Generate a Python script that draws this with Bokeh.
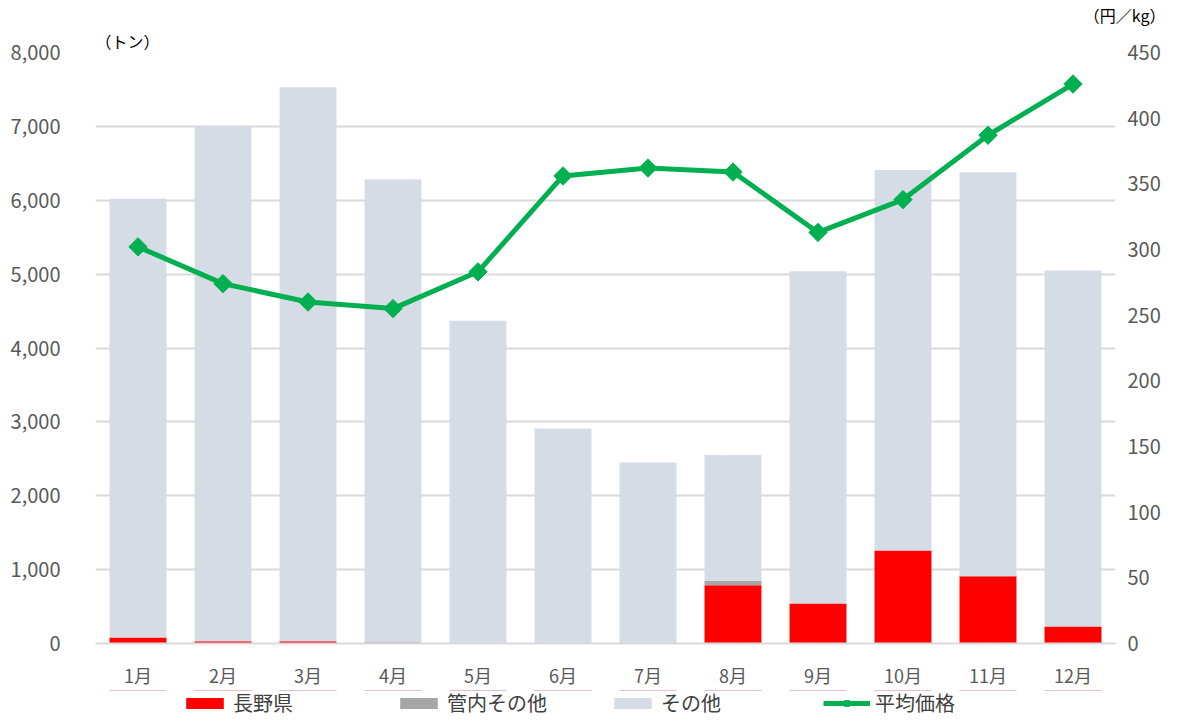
import math
from bokeh.plotting import figure
from bokeh.layouts import column
from bokeh.models import (ColumnDataSource, Range1d, LinearAxis, NumeralTickFormatter,
                          FixedTicker, Legend, LegendItem, Title)
from bokeh.embed import file_html
from bokeh.resources import INLINE

months = ["1月", "2月", "3月", "4月", "5月", "6月", "7月", "8月", "9月", "10月", "11月", "12月"]
nagano = [80, 30, 30, 10, 0, 0, 0, 790, 540, 1260, 910, 230]
kannai = [0, 0, 0, 10, 0, 0, 0, 60, 0, 0, 0, 0]
sonota = [5940, 6970, 7500, 6260, 4370, 2910, 2450, 1700, 4500, 5150, 5470, 4820]
price = [302, 274, 260, 255, 283, 356, 362, 359, 313, 338, 387, 426]
series_names = ["長野県", "管内その他", "その他", "平均価格"]

FONT = "Noto Sans CJK JP"
RED, GRAY, LIGHT, GREEN = "#ff0000", "#a6a6a6", "#d6dce5", "#00b050"

src = ColumnDataSource(dict(month=months, nagano=nagano, kannai=kannai, sonota=sonota, price=price))

p = figure(x_range=months, frame_width=1020, frame_height=591, output_backend="svg",
           toolbar_location=None, min_border_left=95, min_border_right=71,
           min_border_top=51, min_border_bottom=0, border_fill_color="white")
p.y_range = Range1d(0, 8000)
p.extra_y_ranges = {"price": Range1d(0, 450)}
p.outline_line_color = None
p.background_fill_color = "white"

stack = p.vbar_stack(["nagano", "kannai", "sonota"], x="month", width=0.67, source=src,
                     color=[RED, GRAY, LIGHT], line_color=None)
ln = p.line("month", "price", source=src, y_range_name="price", line_color=GREEN, line_width=5)
mk = p.scatter("month", "price", source=src, y_range_name="price", marker="square",
               angle=math.pi / 4, size=13, fill_color=GREEN, line_color=GREEN)

p.yaxis.ticker = FixedTicker(ticks=list(range(0, 8001, 1000)))
p.yaxis.formatter = NumeralTickFormatter(format="0,0")
p.yaxis.axis_line_color = None
p.yaxis.major_tick_line_color = None
p.yaxis.minor_tick_line_color = None
p.yaxis.major_label_text_font = FONT
p.yaxis.major_label_text_font_size = "20px"
p.yaxis.major_label_text_color = "#595959"
p.yaxis.major_label_standoff = 29

ra = LinearAxis(y_range_name="price", ticker=FixedTicker(ticks=list(range(0, 451, 50))))
ra.axis_line_color = None
ra.major_tick_line_color = None
ra.minor_tick_line_color = None
ra.major_label_text_font = FONT
ra.major_label_text_font_size = "20px"
ra.major_label_text_color = "#595959"
ra.major_label_standoff = 6
p.add_layout(ra, "right")

p.xaxis.axis_line_color = "#d9d9d9"
p.xaxis.axis_line_width = 2
p.xaxis.major_tick_line_color = None
p.xaxis.minor_tick_line_color = None
p.xaxis.major_tick_out = 0
p.xaxis.major_tick_in = 0
p.xaxis.major_label_text_font = FONT
p.xaxis.major_label_text_font_size = "18px"
p.xaxis.major_label_text_color = "#595959"
p.xaxis.major_label_standoff = 18

p.xgrid.grid_line_color = None
p.ygrid.grid_line_color = "#d9d9d9"
p.ygrid.grid_line_width = 2

p.add_layout(Title(text="（トン）", align="left", offset=0, standoff=0,
                   text_font=FONT, text_font_size="16px", text_font_style="normal",
                   text_color="black"), "above")
p.add_layout(Title(text="（円／kg）", align="right", offset=-50, standoff=0,
                   text_font=FONT, text_font_size="16px", text_font_style="normal",
                   text_color="black"), "above")

# legend strip below the chart (series drawn outside its visible range, only the legend shows)
p2 = figure(x_range=months, y_range=Range1d(-2, -1), frame_width=1020, frame_height=32,
            output_backend="svg", toolbar_location=None,
            min_border_left=95, min_border_right=71, min_border_top=0, min_border_bottom=0,
            x_axis_location=None, y_axis_location=None, border_fill_color="white")
p2.outline_line_color = None
p2.xgrid.grid_line_color = None
p2.ygrid.grid_line_color = None
stack2 = p2.vbar_stack(["nagano", "kannai", "sonota"], x="month", width=0.67, source=src,
                       color=[RED, GRAY, LIGHT], line_color=None)
ln2 = p2.line("month", "price", source=src, line_color=GREEN, line_width=5)
mk2 = p2.scatter("month", "price", source=src, marker="square", angle=math.pi / 4, size=11,
                 fill_color=GREEN, line_color=GREEN)

legend = Legend(items=[
    LegendItem(label=series_names[0], renderers=[stack2[0]]),
    LegendItem(label=series_names[1], renderers=[stack2[1]]),
    LegendItem(label=series_names[2], renderers=[stack2[2]]),
    LegendItem(label=series_names[3], renderers=[ln2, mk2]),
], orientation="horizontal", location=(86, 5), label_text_font=FONT,
    label_text_font_size="20px", label_text_color="#404040", label_text_line_height=1.0,
    glyph_width=47, glyph_height=14, label_standoff=5, spacing=8, label_width=154,
    label_height=20, padding=0, margin=0, border_line_color=None, background_fill_alpha=0)
p2.add_layout(legend, "center")

open("out.html", "w").write(file_html(column(p, p2), INLINE))
